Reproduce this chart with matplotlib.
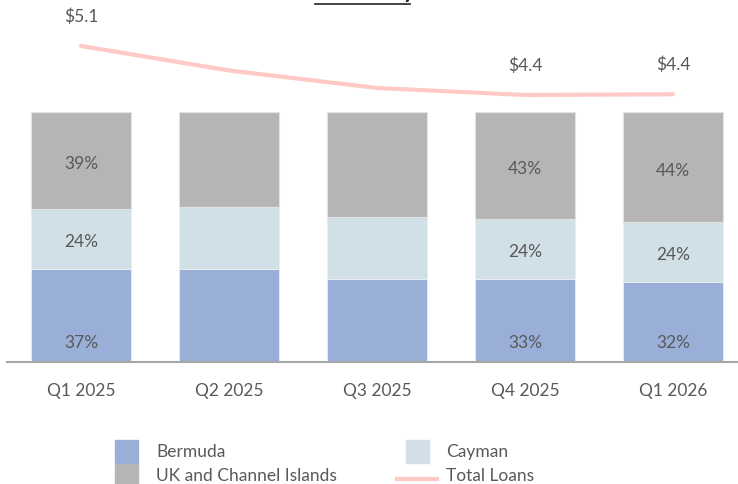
import matplotlib.pyplot as plt
from matplotlib.patches import Rectangle
from matplotlib.lines import Line2D

plt.rcParams['font.family'] = ['Lato', 'DejaVu Sans']

quarters = ['Q1 2025', 'Q2 2025', 'Q3 2025', 'Q4 2025', 'Q1 2026']
bermuda = [37, 37, 33, 33, 32]
cayman = [24, 25, 25, 24, 24]
uk_ci = [39, 38, 42, 43, 44]
total_loans = [5.1, 4.75, 4.5, 4.4, 4.41]
show_pct = [True, False, False, True, True]
show_total = [True, False, False, True, True]

c_bermuda = '#9AAFD8'
c_cayman = '#D1DFE6'
c_uk = '#B5B5B5'
c_line = '#FFC9C6'
c_text = '#595959'

W, H = 738, 485
fig = plt.figure(figsize=(W / 100, H / 100), dpi=100)
ax = fig.add_axes([7 / W, (H - 362.5) / H, 1 - 7 / W, 249.5 / H])

x = list(range(len(quarters)))
bw = 0.676
bot2 = [a + b for a, b in zip(bermuda, cayman)]
ax.bar(x, bermuda, bw, color=c_bermuda, edgecolor='#EEEEEE', linewidth=0.6)
ax.bar(x, cayman, bw, bottom=bermuda, color=c_cayman, edgecolor='#EEEEEE', linewidth=0.6)
ax.bar(x, uk_ci, bw, bottom=bot2, color=c_uk, edgecolor='#E3E3E3', linewidth=0.8)

ax.set_xlim(-0.5, (W - 81) / 148)
ax.set_ylim(0, 100)
ax.set_yticks([])
ax.set_xticks(x)
ax.set_xticklabels(quarters, fontsize=12.5, color=c_text)
ax.tick_params(axis='x', length=0, pad=15)
for s in ['top', 'left', 'right']:
    ax.spines[s].set_visible(False)
ax.spines['bottom'].set_color('#A6A6A6')
ax.spines['bottom'].set_linewidth(1.5)

for i in x:
    if not show_pct[i]:
        continue
    ax.annotate(f'{uk_ci[i]}%', (i, bot2[i] + uk_ci[i] / 2), xytext=(0, -2),
                textcoords='offset points', ha='center', va='center',
                fontsize=12.5, color=c_text)
    ax.annotate(f'{cayman[i]}%', (i, bermuda[i] + cayman[i] / 2), xytext=(0, -1.5),
                textcoords='offset points', ha='center', va='center',
                fontsize=12.5, color=c_text)
    ax.annotate(f'{bermuda[i]}%', (i, 0), xytext=(0, 14),
                textcoords='offset points', ha='center', va='center',
                fontsize=12.5, color=c_text)

ax2 = ax.twinx()
ax2.set_ylim(0.595, 4.157)
ax2.plot(x, total_loans, color=c_line, lw=3, clip_on=False, solid_capstyle='round')
ax2.set_yticks([])
for s in ax2.spines.values():
    s.set_visible(False)
for i in x:
    if show_total[i]:
        ax2.annotate(f'${total_loans[i]:.1f}', (i, total_loans[i]), xytext=(0, 22),
                     textcoords='offset points', ha='center', va='center',
                     fontsize=12.5, color=c_text, annotation_clip=False)

# title, cut off at the top edge: only the underline and a descender show
fig.text(366 / W, 1 + 2.5 / H, 'Summary', ha='center', va='baseline',
         fontsize=17, fontweight='bold', color='#222222')
fig.add_artist(Line2D([315 / W, 410 / W], [1 - 4.5 / H] * 2, color='#222222', lw=1.2))

# legend
def px(xp, yp):
    return xp / W, 1 - yp / H

leg = [
    ('patch', c_bermuda, 'Bermuda', 115, 452),
    ('patch', c_uk, 'UK and Channel Islands', 115, 476),
    ('patch', c_cayman, 'Cayman', 406, 452),
    ('line', c_line, 'Total Loans', 397, 480),
]
for kind, col, lab, x0, yc in leg:
    if kind == 'patch':
        fx, fy = px(x0, yc + 11.5)
        fig.add_artist(Rectangle((fx, fy), 23 / W, 23 / H, color=col, transform=fig.transFigure))
        tx = x0 + 41 if x0 < 300 else x0 + 40
        ty = yc
    else:
        fx0, fy0 = px(x0, yc)
        fx1, _ = px(x0 + 40, yc)
        fig.add_artist(Line2D([fx0, fx1], [fy0, fy0], color=col, lw=3))
        tx = x0 + 49
        ty = 476
    fig.text(*px(tx, ty), lab, ha='left', va='center', fontsize=12.5, color=c_text)

fig.savefig('out.png', dpi=100)
